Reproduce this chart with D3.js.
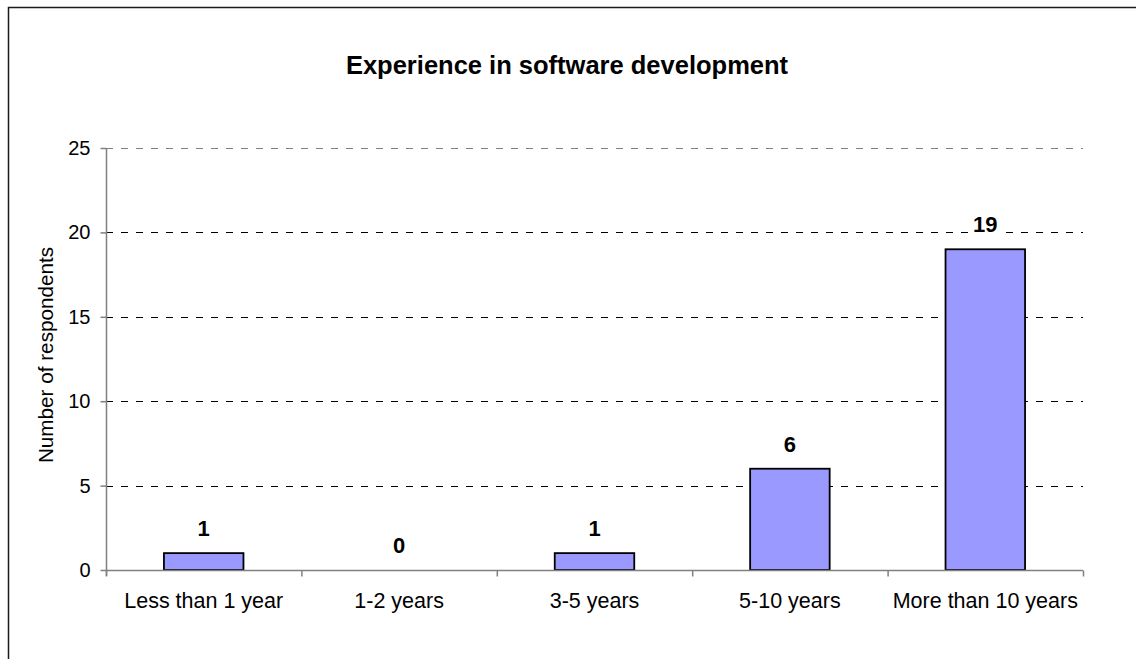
<!DOCTYPE html>
<html>
    <head>
        <meta charset="UTF-8">
        <script src="https://d3js.org/d3.v7.min.js"></script>
        <style>
            body { margin: 0; background: #fff; }
            svg text { font-family: Arial, "Liberation Sans", sans-serif; fill: #000; }
        </style>
    </head>
    <body>
        <div id='chart'></div>
        <script type='text/javascript'>
            // data
            var categories = ["Less than 1 year", "1-2 years", "3-5 years", "5-10 years", "More than 10 years"];
            var respondents = [1, 0, 1, 6, 19];
            var yTicks = [0, 5, 10, 15, 20, 25];
            var chartTitle = "Experience in software development";
            var yTitle = "Number of respondents";

            var width = 1136;
            var height = 659;
            // plot area edges (note: "top" is reserved on window)
            var plotLeft = 106, plotRight = 1083, plotTop = 148, plotBottom = 570;

            var svg = d3.select("#chart")
                    .append("svg")
                    .attr("width", width)
                    .attr("height", height);

            // outer chart frame (runs off the right / bottom of the picture)
            svg.append("rect")
                .attr("x", 8.5)
                .attr("y", 7.5)
                .attr("width", 1200)
                .attr("height", 700)
                .attr("fill", "#fff")
                .attr("stroke", "#1a1a1a")
                .attr("stroke-width", 1.5);

            var xscale = d3.scaleBand()
                            .domain(categories)
                            .range([plotLeft, plotRight])
                            .paddingInner(0.593)
                            .paddingOuter(0.2965);
            var yscale = d3.scaleLinear()
                            .domain([0, 25])
                            .range([plotBottom, plotTop]);
            // category boundaries, for the tick marks between the bars
            var xedge = d3.scaleLinear()
                            .domain([0, categories.length])
                            .range([plotLeft, plotRight]);

            var data = categories.map((c, i) => ({ cat: c, value: respondents[i] }));

            // dashed gridlines
            svg.append("g")
                .selectAll("line")
                .data(yTicks.filter(d => d > 0))
                .enter()
                .append("line")
                .attr("x1", plotLeft)
                .attr("x2", plotRight)
                .attr("y1", d => Math.round(yscale(d)) + 0.5)
                .attr("y2", d => Math.round(yscale(d)) + 0.5)
                .attr("stroke", d => d == 25 ? "#808080" : "#000")
                .attr("stroke-width", 1)
                .attr("stroke-dasharray", "7,8");

            // bars
            svg.append("g")
                .selectAll("rect")
                .data(data.filter(d => d.value > 0))
                .enter()
                .append("rect")
                .attr("x", d => xscale(d.cat))
                .attr("y", d => yscale(d.value))
                .attr("width", xscale.bandwidth())
                .attr("height", d => yscale(0) - yscale(d.value))
                .attr("fill", "#9999ff")
                .attr("stroke", "#000")
                .attr("stroke-width", 1.8);

            // value labels, on a white patch so gridlines break behind them
            var labels = svg.append("g")
                .selectAll("g")
                .data(data)
                .enter()
                .append("g");
            labels.append("text")
                .attr("x", d => xscale(d.cat) + xscale.bandwidth() / 2)
                .attr("y", d => yscale(d.value) - 17)
                .attr("text-anchor", "middle")
                .style("font-size", "22px")
                .style("font-weight", "bold")
                .text(d => d.value);
            labels.each(function() {
                var t = d3.select(this).select("text");
                var bb = t.node().getBBox();
                d3.select(this).insert("rect", "text")
                    .attr("x", bb.x - 3)
                    .attr("y", bb.y + 2)
                    .attr("width", bb.width + 6)
                    .attr("height", bb.height - 2)
                    .attr("fill", "#fff");
            });

            // y axis
            var yaxis = d3.axisLeft(yscale).tickValues(yTicks).tickSize(6).tickPadding(10);
            var gy = svg.append("g")
                .attr("transform", "translate(" + (plotLeft + 0.5) + ",0)")
                .call(yaxis);
            gy.select(".domain").remove();
            gy.selectAll(".tick line").attr("stroke", "#808080").attr("stroke-width", 1.5);
            gy.selectAll(".tick text").style("font-size", "20px").attr("font-family", null).attr("x", -16);
            gy.append("line")
                .attr("x1", 0).attr("x2", 0)
                .attr("y1", plotTop).attr("y2", plotBottom + 6)
                .attr("stroke", "#808080").attr("stroke-width", 1.5);

            // x axis: boundary ticks + category labels
            var xticks = d3.axisBottom(xedge).ticks(categories.length).tickSize(6).tickFormat("");
            var gx = svg.append("g")
                .attr("transform", "translate(0," + (plotBottom + 0.5) + ")")
                .call(xticks);
            gx.select(".domain").attr("stroke", "#808080").attr("stroke-width", 1.5).attr("d", "M" + plotLeft + ",0H" + plotRight);
            gx.selectAll(".tick line").attr("stroke", "#808080").attr("stroke-width", 1.5);

            var xaxis = d3.axisBottom(xscale).tickSize(0);
            var gl = svg.append("g")
                .attr("transform", "translate(0," + plotBottom + ")")
                .call(xaxis);
            gl.select(".domain").remove();
            gl.selectAll(".tick text")
                .attr("font-family", null)
                .style("font-size", "21.5px")
                .attr("y", 38)
                .attr("dy", 0);

            // titles
            svg.append("text")
                .attr("x", 567)
                .attr("y", 74)
                .attr("text-anchor", "middle")
                .style("font-size", "25.5px")
                .style("font-weight", "bold")
                .text(chartTitle);

            svg.append("text")
                .attr("transform", "translate(53," + ((plotTop + plotBottom) / 2 - 4) + ") rotate(-90)")
                .attr("text-anchor", "middle")
                .style("font-size", "20.7px")
                .text(yTitle);
        </script>
    </body>
</html>
